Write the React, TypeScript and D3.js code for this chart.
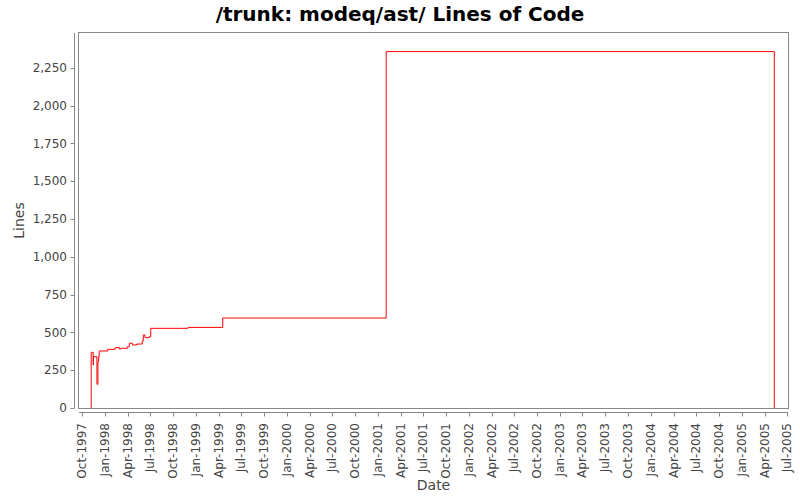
import React from "react";
import * as d3 from "d3";

const TITLE = "/trunk: modeq/ast/ Lines of Code";
const X_LABEL = "Date";
const Y_LABEL = "Lines";

const dates: string[] = [
  "1997-11-06", "1997-11-06", "1997-11-14", "1997-11-15", "1997-11-29",
  "1997-12-03", "1997-12-06", "1997-12-08", "1998-01-11", "1998-02-10",
  "1998-02-27", "1998-03-05", "1998-03-31", "1998-04-08", "1998-04-21",
  "1998-05-07", "1998-05-30", "1998-06-03", "1998-06-10", "1998-06-27",
  "1998-07-03", "1998-11-30", "1999-04-18", "2001-02-02", "2005-05-10",
];
const lines: number[] = [
  0, 368, 284, 339, 157,
  306, 339, 377, 388, 399,
  390, 395, 405, 428, 417,
  423, 443, 483, 465, 472,
  527, 533, 595, 2357, 0,
];

const yTicks: number[] = [0, 250, 500, 750, 1000, 1250, 1500, 1750, 2000, 2250];
const xTickLabels: string[] = [
  "Oct-1997", "Jan-1998", "Apr-1998", "Jul-1998", "Oct-1998", "Jan-1999", "Apr-1999", "Jul-1999",
  "Oct-1999", "Jan-2000", "Apr-2000", "Jul-2000", "Oct-2000", "Jan-2001", "Apr-2001", "Jul-2001",
  "Oct-2001", "Jan-2002", "Apr-2002", "Jul-2002", "Oct-2002", "Jan-2003", "Apr-2003", "Jul-2003",
  "Oct-2003", "Jan-2004", "Apr-2004", "Jul-2004", "Oct-2004", "Jan-2005", "Apr-2005", "Jul-2005",
];
const xDomain: string[] = ["1997-09-18", "2005-07-04"];
const yDomain: number[] = [0, 2480];

const parse = d3.timeParse("%Y-%m-%d");
const parseTick = d3.timeParse("%b-%Y");
const fmt = d3.format(",");

export default function App() {
  const W = 800, H = 500;
  const L = 79, R = 788, T = 33, B = 408;
  const x = d3.scaleTime().domain(xDomain.map((d) => parse(d)!)).range([L, R]);
  const y = d3.scaleLinear().domain(yDomain).range([B, T]);
  const data = dates.map((d, i) => ({ d: parse(d)!, v: lines[i] }));
  const path = d3
    .line<{ d: Date; v: number }>()
    .x((p) => x(p.d))
    .y((p) => y(p.v))
    .curve(d3.curveStepAfter)(data) || "";
  const font = "'DejaVu Sans', sans-serif";
  const axisColor = "#888888";
  const textColor = "#444444";
  const axisX = 74.5;
  const axisY = 412.5;

  return (
    <svg width={W} height={H} style={{ position: "absolute", left: 0, top: 0, background: "#fff" }}>
      <rect x={0} y={0} width={W} height={H} fill="#ffffff" />
      <text x={400} y={21} textAnchor="middle" fontFamily={font} fontWeight="bold" fontSize={20} fill="#000">
        {TITLE}
      </text>
      <rect x={L - 0.5} y={T - 0.5} width={R - L + 1} height={B - T + 1} fill="#ffffff" stroke={axisColor} strokeWidth={1} />
      {/* y axis */}
      <line x1={axisX} x2={axisX} y1={T} y2={B} stroke={axisColor} strokeWidth={1} />
      {yTicks.map((t) => (
        <g key={t}>
          <line x1={axisX - 4} x2={axisX} y1={Math.round(y(t)) + 0.5} y2={Math.round(y(t)) + 0.5} stroke={axisColor} />
          <text x={67} y={y(t)} dy="0.35em" textAnchor="end" fontFamily={font} fontSize={12} fill={textColor}>
            {fmt(t)}
          </text>
        </g>
      ))}
      <text
        transform={`translate(19,${(T + B) / 2}) rotate(-90)`}
        textAnchor="middle"
        dominantBaseline="central"
        fontFamily={font}
        fontSize={14}
        fill={textColor}
      >
        {Y_LABEL}
      </text>
      {/* x axis */}
      <line x1={L} x2={R} y1={axisY} y2={axisY} stroke={axisColor} strokeWidth={1} />
      {xTickLabels.map((lab) => {
        const xp = x(parseTick(lab)!);
        return (
          <g key={lab}>
            <line x1={Math.round(xp) + 0.5} x2={Math.round(xp) + 0.5} y1={axisY} y2={axisY + 4} stroke={axisColor} />
            <text
              transform={`translate(${xp},${423}) rotate(-90)`}
              textAnchor="end"
              dominantBaseline="central"
              fontFamily={font}
              fontSize={12}
              fill={textColor}
            >
              {lab}
            </text>
          </g>
        );
      })}
      <text x={(L + R) / 2} y={490} textAnchor="middle" fontFamily={font} fontSize={14} fill={textColor}>
        {X_LABEL}
      </text>
      <path d={path} fill="none" stroke="#ff0000" strokeWidth={1} />
    </svg>
  );
}
